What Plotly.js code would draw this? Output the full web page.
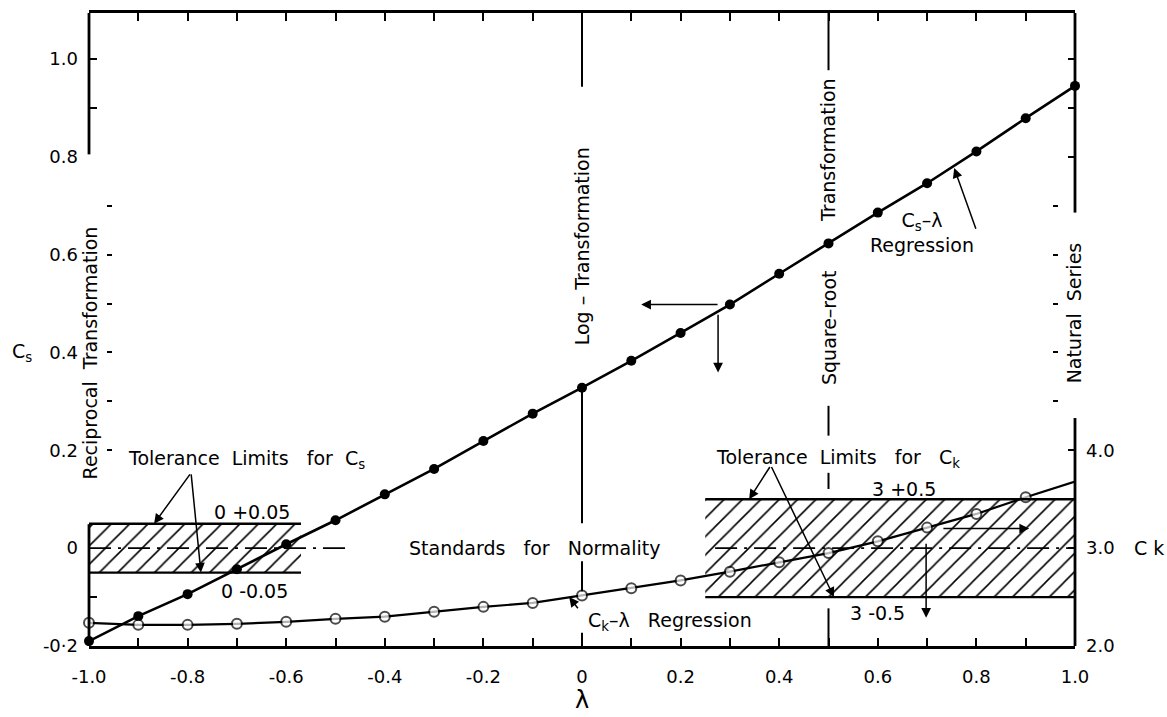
<!DOCTYPE html>
<html><head><meta charset="utf-8">
<script src="https://cdn.plot.ly/plotly-3.0.1.min.js"></script>
<style>html,body{margin:0;padding:0;background:#fff}</style>
</head><body><div id="chart" style="width:1167px;height:717px"></div>
<script>
// ---- data ----
const lambda = [-1.0,-0.9,-0.8,-0.7,-0.6,-0.5,-0.4,-0.3,-0.2,-0.1,0,0.1,0.2,0.3,0.4,0.5,0.6,0.7,0.8,0.9,1.0];
const csValues = [-0.190,-0.139,-0.094,-0.043,0.008,0.057,0.110,0.162,0.219,0.275,0.328,0.383,0.440,0.498,0.561,0.623,0.686,0.746,0.811,0.879,0.945];
const ckValues = [2.237,2.216,2.216,2.227,2.247,2.278,2.300,2.350,2.400,2.440,2.515,2.590,2.670,2.760,2.855,2.950,3.070,3.210,3.350,3.520,3.680];

const xTickVals = lambda;
const xTickText = ['-1.0','','-0.8','','-0.6','','-0.4','','-0.2','','0','','0.2','','0.4','','0.6','','0.8','','1.0'];
const csTickVals = [-0.2,0,0.2,0.4,0.6,0.8,1.0];
const csTickText = ['-0·2','0','0.2','0.4','0.6','0.8','1.0'];
const ckTickVals = [2,3,4,7,7.5,8];
const ckTickText = ['2.0','3.0','4.0','','',''];

// tolerance limits
const csBandLambda = [-1.0,-0.57];
const csBandLimits = [-0.05,0.05];
const csNormalLambda = [-1.0,-0.47];
const csNormal = 0;
const ckBandLambda = [0.25,1.0];
const ckBandLimits = [2.5,3.5];
const ckNormalLambda = [0.27,1.0];
const ckNormal = 3.0;

// transformation guide lines (lambda value and visible Cs ranges)
const logLambda = 0;
const logSegments = [[0.943,1.094],[0.051,0.332],[-0.088,-0.027],[-0.2,-0.173]];
const sqrtLambda = 0.5;
const sqrtSegments = [[0.977,1.094],[0.23,0.291],[0.121,0.154],[-0.2,-0.123]];
const leftAxisSegments = [[-0.2,0.049],[0.805,1.094]];
const rightAxisSegments = [[-0.2,0.266],[0.686,1.094]];

const CS_RANGE = [-0.2,1.094];
const CK_RANGE = [2.0, 2.0 + (CS_RANGE[1]-CS_RANGE[0])*5];
const FONT = 'DejaVu Sans';
const K = '#000';
const nb = '\u00a0';
const sp2 = nb+nb, sp3 = nb+nb+nb;

// ---- traces ----
const hatch = {shape:'/', size:13, solidity:0.12, fgcolor:K, fgopacity:1};
const traces = [
  {type:'bar', x:[(csBandLambda[0]+csBandLambda[1])/2], width:[csBandLambda[1]-csBandLambda[0]],
   base:[csBandLimits[0]], y:[csBandLimits[1]-csBandLimits[0]], yaxis:'y',
   marker:{color:'rgba(0,0,0,0)', line:{width:0}, pattern:hatch}, hoverinfo:'skip', showlegend:false},
  {type:'bar', x:[(ckBandLambda[0]+ckBandLambda[1])/2], width:[ckBandLambda[1]-ckBandLambda[0]],
   base:[ckBandLimits[0]], y:[ckBandLimits[1]-ckBandLimits[0]], yaxis:'y2',
   marker:{color:'rgba(0,0,0,0)', line:{width:0}, pattern:hatch}, hoverinfo:'skip', showlegend:false},
  {type:'scatter', mode:'lines', x:csNormalLambda, y:[csNormal,csNormal], yaxis:'y',
   line:{color:K, width:1.8, dash:'22px,7px,3px,7px'}, hoverinfo:'skip', showlegend:false},
  {type:'scatter', mode:'lines', x:ckNormalLambda, y:[ckNormal,ckNormal], yaxis:'y2',
   line:{color:K, width:1.8, dash:'22px,7px,3px,7px'}, hoverinfo:'skip', showlegend:false},
  {type:'scatter', mode:'lines+markers', x:lambda, y:csValues, yaxis:'y', cliponaxis:false,
   line:{color:K, width:2.6}, marker:{color:K, size:10}, name:'Cs', showlegend:false},
  {type:'scatter', mode:'lines+markers', x:lambda, y:ckValues, yaxis:'y2', cliponaxis:false,
   line:{color:K, width:2.2}, marker:{color:'#fff', size:lambda.map((l,i)=>i===lambda.length-1?0:10), line:{color:K, width:2}},
   name:'Ck', showlegend:false},
  {type:'scatter', x:[], y:[], yaxis:'y3', showlegend:false, hoverinfo:'skip'},
  {type:'scatter', x:[], y:[], yaxis:'y4', showlegend:false, hoverinfo:'skip'},
  {type:'scatter', x:[], y:[], yaxis:'y5', showlegend:false, hoverinfo:'skip'}
];

// ---- shapes ----
const shapes = [];
function vseg(x, xref, segs, w){
  segs.forEach(s=>shapes.push({type:'line', xref:xref, yref:'y', x0:x, x1:x, y0:s[0], y1:s[1], line:{color:K, width:w}}));
}
vseg(0,'paper',leftAxisSegments,2.8);
vseg(1,'paper',rightAxisSegments,2.8);
vseg(logLambda,'x',logSegments,2);
vseg(sqrtLambda,'x',sqrtSegments,2);
csBandLimits.forEach(v=>shapes.push({type:'line', xref:'x', yref:'y', x0:csBandLambda[0], x1:csBandLambda[1], y0:v, y1:v, line:{color:K, width:2.4}}));
ckBandLimits.forEach(v=>shapes.push({type:'line', xref:'x', yref:'y2', x0:ckBandLambda[0], x1:ckBandLambda[1], y0:v, y1:v, line:{color:K, width:2.4}}));

// ---- annotations ----
const tf = {family:FONT, size:19, color:K};
const ann = [];
function label(text, x, y, opts){ ann.push(Object.assign({text:text, x:x, y:y, xref:'x', yref:'y', showarrow:false, font:tf}, opts||{})); }
label('Tolerance'+sp2+'Limits'+sp3+'for'+sp2+'C<sub>s</sub>', -0.68, 0.182);
label('0'+nb+'+0.05', -0.67, 0.074);
label('0'+nb+'-0.05', -0.665, -0.088);
label('Standards'+sp3+'for'+sp3+'Normality', -0.097, 0);
label('Tolerance'+sp2+'Limits'+sp3+'for'+sp3+'C<sub>k</sub>', 0.52, 0.184);
label('3'+nb+'+0.5', 0.653, 0.121);
label('3'+nb+'-0.5', 0.60, -0.133);
label('C<sub>s</sub>–λ<br>Regression', 0.69, 0.645);
label('C<sub>k</sub>–λ'+sp3+'Regression', 0.008, -0.15, {xanchor:'left'});
label('Reciprocal'+sp2+'Transformation', -0.996, 0.40, {textangle:-90});
label('Log'+nb+'–'+nb+'Transformation', 0, 0.617, {textangle:-90});
label('Transformation', 0.5, 0.813, {textangle:-90});
label('Square–root', 0.5, 0.449, {textangle:-90});
label('Natural'+sp2+'Series', 0.998, 0.48, {textangle:-90});
label('C<sub>s</sub>', -0.0558, 0.40, {xref:'paper', xanchor:'right'});
label('C'+nb+'k', 1.058, 3.0, {xref:'paper', yref:'y2', xanchor:'left'});
label('λ', 0, -0.085, {yref:'paper', yanchor:'middle', font:{family:FONT, size:24, color:K}});

function arrow(tail, head, yref){
  ann.push({text:'', showarrow:true, xref:'x', yref:yref, axref:'x', ayref:yref,
    x:head[0], y:head[1], ax:tail[0], ay:tail[1], arrowhead:2, arrowsize:1.3, arrowwidth:1.5,
    arrowcolor:K, standoff:0, startstandoff:0});
}
arrow([-0.793,0.154],[-0.868,0.05],'y');
arrow([-0.793,0.154],[-0.773,-0.05],'y');
arrow([0.383,3.845],[0.339,3.5],'y2');
arrow([0.383,3.845],[0.511,2.5],'y2');
arrow([0.278,0.498],[0.12,0.498],'y');
arrow([0.276,0.48],[0.276,0.359],'y');
arrow([0.73,3.2],[0.907,3.2],'y2');
arrow([0.698,3.06],[0.698,2.29],'y2');
arrow([-0.006,2.37],[-0.026,2.5],'y2');
arrow([0.80,0.65],[0.755,0.777],'y');

// ---- layout ----
const tickFont = {family:FONT, size:18, color:K};
const hiddenAx = {range:CS_RANGE, overlaying:'y', anchor:'free', showticklabels:false, showgrid:false, zeroline:false, showline:false, tickcolor:K, tickwidth:2};
const layout = {
  width:1167, height:717,
  margin:{l:89, r:92, t:13, b:71},
  paper_bgcolor:'#fff', plot_bgcolor:'#fff',
  barmode:'overlay', showlegend:false, hovermode:false,
  xaxis:{range:[-1,1], tickvals:xTickVals, ticktext:xTickText, ticks:'inside', ticklen:8, tickwidth:2, tickcolor:K,
    showline:true, linewidth:2.8, linecolor:K, mirror:'ticks', showgrid:false, zeroline:false, tickfont:tickFont, ticklabelstandoff:13},
  yaxis:{range:CS_RANGE, tickvals:csTickVals, ticktext:csTickText, ticks:'', showline:false, showgrid:false, zeroline:false, tickfont:tickFont, ticklabelstandoff:10},
  yaxis2:{range:CK_RANGE, overlaying:'y', side:'right', anchor:'x', tickvals:ckTickVals, ticktext:ckTickText, ticks:'inside', ticklen:7, tickwidth:2, tickcolor:K,
    showline:false, showgrid:false, zeroline:false, tickfont:tickFont, ticklabelstandoff:10},
  yaxis3:Object.assign({}, hiddenAx, {side:'left', position:0, tickvals:[-0.1,0.9,1.0], ticks:'inside', ticklen:7}),
  yaxis4:Object.assign({}, hiddenAx, {side:'left', position:0.017, tickvals:[0.2,0.3,0.4,0.5,0.6,0.7], ticks:'inside', ticklen:5}),
  yaxis5:Object.assign({}, hiddenAx, {side:'right', position:0.983, tickvals:[0.3,0.4,0.5,0.6,0.7], ticks:'inside', ticklen:5}),
  shapes:shapes,
  annotations:ann,
  font:{family:FONT, color:K}
};
Plotly.newPlot('chart', traces, layout, {staticPlot:true, displayModeBar:false});
</script></body></html>
